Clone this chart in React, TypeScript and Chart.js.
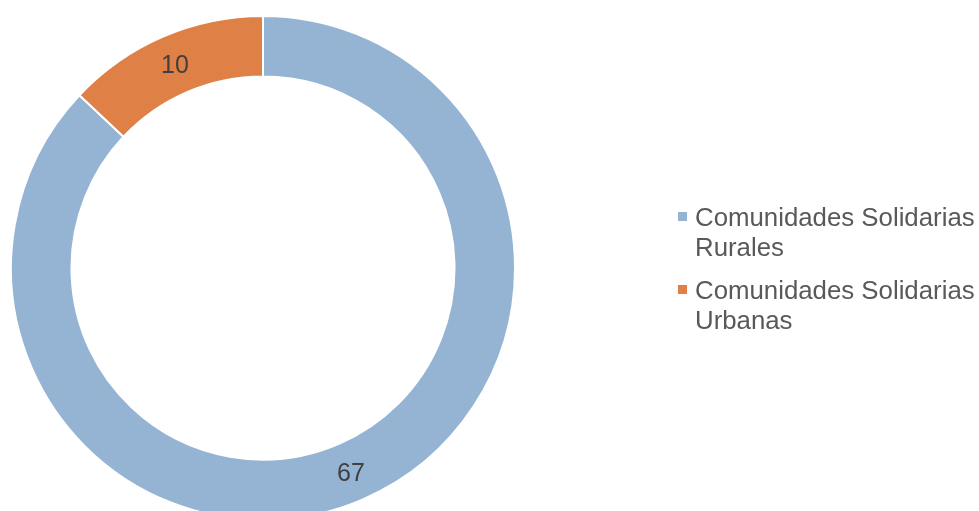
import React, { useEffect, useRef } from "react";
import { Chart, registerables } from "chart.js";

Chart.register(...registerables);

const categories = ["Comunidades Solidarias Rurales", "Comunidades Solidarias Urbanas"];
const legendLines = [["Comunidades Solidarias", "Rurales"], ["Comunidades Solidarias", "Urbanas"]];
const values = [67, 10];
const colors = ["#95B4D3", "#DF8046"];

const labelPlugin = {
  id: "arcLabels",
  afterDatasetsDraw(chart: any) {
    const ctx = chart.ctx;
    const meta = chart.getDatasetMeta(0);
    ctx.save();
    ctx.font = '25px "Liberation Sans", Arial, sans-serif';
    ctx.fillStyle = "#404040";
    ctx.textAlign = "center";
    ctx.textBaseline = "alphabetic";
    meta.data.forEach((arc: any, i: number) => {
      const p = arc.tooltipPosition();
      ctx.fillText(String(values[i]), p.x, p.y + 9);
    });
    ctx.restore();
  },
};

const legendPlugin = {
  id: "customLegend",
  afterDraw(chart: any) {
    const ctx = chart.ctx;
    ctx.save();
    ctx.font = '25.8px "Liberation Sans", Arial, sans-serif';
    ctx.textBaseline = "alphabetic";
    const x0 = 678;
    const squares = [212, 285];
    const baselines = [226, 299];
    const lh = 30;
    legendLines.forEach((lines, i) => {
      ctx.fillStyle = colors[i];
      ctx.fillRect(x0, squares[i], 9, 9);
      ctx.fillStyle = "#595959";
      ctx.textAlign = "left";
      lines.forEach((t, j) => {
        ctx.fillText(t, x0 + 17, baselines[i] + j * lh);
      });
    });
    ctx.restore();
  },
};

export default function App() {
  const ref = useRef<HTMLCanvasElement>(null);
  useEffect(() => {
    const chart = new Chart(ref.current!, {
      type: "doughnut",
      data: {
        labels: categories,
        datasets: [
          {
            data: values,
            backgroundColor: colors,
            borderColor: "#ffffff",
            borderWidth: 2,
          },
        ],
      },
      options: {
        responsive: false,
        animation: false,
        cutout: "76%",
        layout: { padding: { left: 10, right: 463, top: 15, bottom: 1 } },
        plugins: {
          legend: { display: false },
          tooltip: { enabled: false },
        },
      },
      plugins: [labelPlugin, legendPlugin],
    });
    return () => chart.destroy();
  }, []);
  return (
    <div style={{ position: "fixed", left: 0, top: 0, width: 979, height: 511, overflow: "hidden", background: "#fff" }}>
      <canvas ref={ref} width={979} height={522} style={{ display: "block" }} />
    </div>
  );
}
